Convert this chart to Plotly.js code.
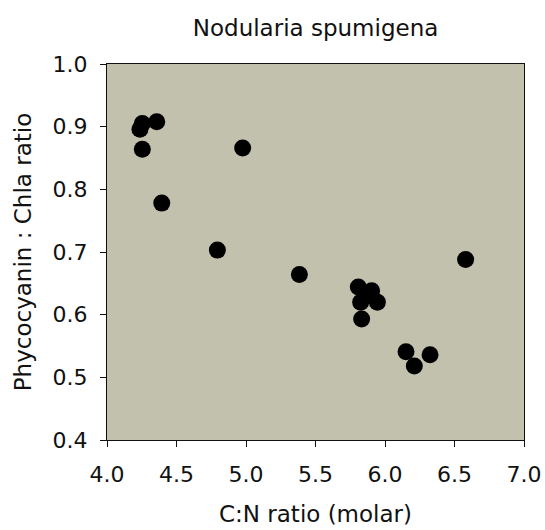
<!DOCTYPE html>
<html>
<head>
<meta charset="utf-8">
<script src="https://cdn.plot.ly/plotly-3.0.1.min.js"></script>
<style>html,body{margin:0;padding:0;background:#fff;}#chart{width:545px;height:530px;}</style>
</head>
<body>
<div id="chart"></div>
<script>
const cnRatio = [4.237, 4.254, 4.358, 4.254, 4.976, 4.394, 4.794, 5.384, 6.58, 5.808, 5.904, 5.86, 5.945, 5.825, 5.832, 6.151, 6.211, 6.324];
const pcChla  = [0.896, 0.905, 0.908, 0.864, 0.866, 0.778, 0.703, 0.664, 0.688, 0.644, 0.638, 0.630, 0.620, 0.620, 0.593, 0.541, 0.518, 0.536];
const xTicks = [4.0, 4.5, 5.0, 5.5, 6.0, 6.5, 7.0];
const yTicks = [0.4, 0.5, 0.6, 0.7, 0.8, 0.9, 1.0];
const chartTitle = "Nodularia spumigena";
const xTitle = "C:N ratio (molar)";
const yTitle = "Phycocyanin : Chla ratio";

const font = "DejaVu Sans, Arial, sans-serif";
const trace = {
  x: cnRatio, y: pcChla, type: "scatter", mode: "markers",
  marker: {color: "#000", size: 17}, hoverinfo: "skip"
};
const layout = {
  width: 545, height: 530,
  margin: {l: 107, r: 21, t: 64, b: 90},
  paper_bgcolor: "#ffffff",
  plot_bgcolor: "#c2c1ad",
  showlegend: false,
  font: {family: font, color: "#111"},
  title: {text: chartTitle, font: {size: 23, family: font, color: "#111"}, x: 0.579, xanchor: "center", y: 0.948, yanchor: "middle", yref: "container"},
  xaxis: {
    range: [4, 7], tickvals: xTicks, ticktext: xTicks.map(v => v.toFixed(1)),
    ticks: "outside", ticklen: 6, tickwidth: 1, tickcolor: "#111",
    showline: true, linecolor: "#111", linewidth: 1, mirror: true,
    showgrid: false, zeroline: false, ticklabelstandoff: 9,
    tickfont: {size: 22, family: font, color: "#111"},
    title: {text: xTitle, font: {size: 23, family: font, color: "#111"}, standoff: 19}
  },
  yaxis: {
    range: [0.4, 1.0], tickvals: yTicks, ticktext: yTicks.map(v => v.toFixed(1)),
    ticks: "outside", ticklen: 6, tickwidth: 1, tickcolor: "#111",
    showline: true, linecolor: "#111", linewidth: 1, mirror: true,
    showgrid: false, zeroline: false, ticklabelstandoff: 8,
    tickfont: {size: 22, family: font, color: "#111"},
    title: {text: yTitle, font: {size: 23, family: font, color: "#111"}, standoff: 14}
  }
};
Plotly.newPlot("chart", [trace], layout, {staticPlot: true, displayModeBar: false});
</script>
</body>
</html>
